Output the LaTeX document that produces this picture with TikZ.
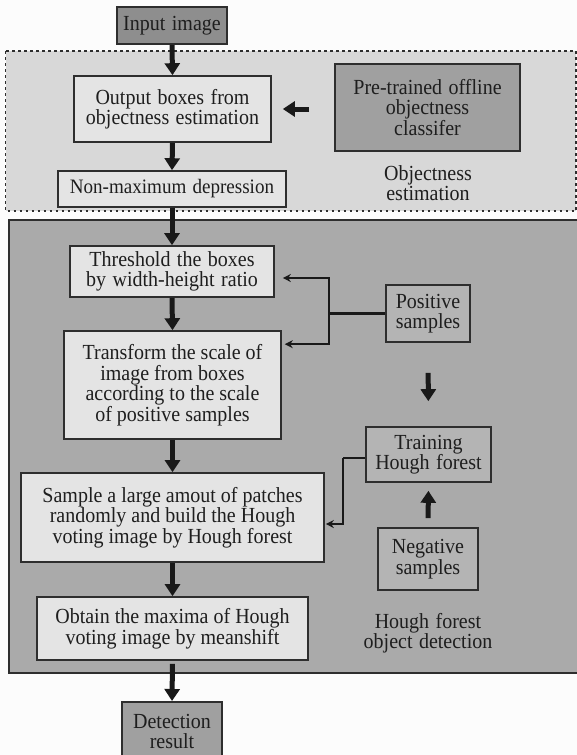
\documentclass[tikz,border=0pt]{standalone}
\usepackage{fontspec}
\setmainfont{Liberation Serif}
\newfontfamily\tallfont[FakeStretch=0.93]{Liberation Serif}
\usetikzlibrary{arrows.meta,calc}
\definecolor{inkc}{HTML}{1E1E1E}
\definecolor{linec}{HTML}{2E2E2E}
\definecolor{paperc}{HTML}{FCFCFC}
\definecolor{lightreg}{HTML}{D8D8D8}
\definecolor{darkreg}{HTML}{AAAAAA}
\definecolor{boxlight}{HTML}{E4E4E4}
\definecolor{boxmid}{HTML}{B4B4B4}
\definecolor{boxdark}{HTML}{A0A0A0}
\definecolor{boxdarker}{HTML}{8E8E8E}
\newcommand\mywidesp{\spaceskip=0.3em plus 0.1em minus 0.05em\relax}
\newcommand\mybasefont{\tallfont\fontsize{21.5}{20.5}\selectfont}
\tikzset{
  base/.style={draw=linec, line width=1.6pt, inner sep=0pt, align=center, text=inkc,
    font=\mybasefont},
  wide/.style={font=\mybasefont\mywidesp},
  lightbox/.style={base, fill=boxlight},
  midbox/.style={base, fill=boxmid},
  darkbox/.style={base, fill=boxdark},
  darkerbox/.style={base, fill=boxdarker},
  bigarrow/.style={draw=black!90, line width=5pt, -{Triangle[width=15pt,length=12pt]}},
  thinline/.style={draw=black!90, line width=2.4pt},
  thinarrow/.style={thinline, -{Stealth[width=8pt,length=8pt]}},
  lbl/.style={text=inkc, align=center, font=\mybasefont\mywidesp}
}
\begin{document}
\begin{tikzpicture}[x=1pt,y=-1pt]
\useasboundingbox (0,0) rectangle (577,755);
\fill[paperc] (0,0) rectangle (577,755);
% regions
\draw[fill=lightreg, draw=linec, line width=1.8pt, dash pattern=on 2.5pt off 3.5pt] (5.5,51) rectangle (576,211);
\draw[fill=darkreg, draw=linec, line width=1.6pt] (9,220) rectangle (585,673);
% main column
\node[darkerbox, wide, minimum width=110pt, minimum height=37pt] (inp) at (172,25.5) {Input image};
\node[lightbox, wide, minimum width=197pt, minimum height=66pt] (out) at (172.5,109) {Output boxes from\\objectness estimation};
\node[darkbox, wide, minimum width=185pt, minimum height=87pt] (pre) at (427.5,107.5) {Pre-trained offline\\objectness\\classifer};
\node[lightbox, font=\tallfont\fontsize{20.5}{20.5}\selectfont\mywidesp, minimum width=228pt, minimum height=36pt] (nms) at (172,189) {Non-maximum depression};
\node[lbl] (objl) at (428,183) {Objectness\\estimation};
\node[lightbox, wide, minimum width=204pt, minimum height=51pt] (thr) at (172,271.5) {Threshold the boxes\\by width-height ratio};
\node[lightbox, minimum width=217pt, minimum height=108pt] (tra) at (172.5,385) {Transform the scale of\\image from boxes\\according to the scale\\of positive samples};
\node[lightbox, minimum width=303pt, minimum height=89pt] (sam) at (172.5,517.5) {Sample a large amout of patches\\randomly and build the Hough\\voting image by Hough forest};
\node[lightbox, minimum width=271pt, minimum height=63pt] (obt) at (172.5,628.5) {Obtain the maxima of Hough\\voting image by meanshift};
\node[darkbox, minimum width=100pt, minimum height=59pt, anchor=north] (det) at (172,701) {Detection\\result};
% right column
\node[midbox, minimum width=84pt, minimum height=57pt] (pos) at (428,313.5) {Positive\\samples};
\node[midbox, wide, minimum width=125pt, minimum height=55pt] (trn) at (428.5,454.5) {Training\\Hough forest};
\node[midbox, minimum width=100pt, minimum height=62pt] (neg) at (428,559) {Negative\\samples};
\node[lbl] (houl) at (428,633) {Hough forest\\object detection};
% big arrows
\draw[bigarrow] (inp.south) -- (out.north);
\draw[bigarrow] (out.south) -- (nms.north);
\draw[bigarrow] (nms.south) -- (thr.north);
\draw[bigarrow] (thr.south) -- (tra.north);
\draw[bigarrow] (tra.south) -- (sam.north);
\draw[bigarrow] (sam.south) -- (obt.north);
\draw[bigarrow, shorten <=3pt] (obt.south) -- (det.north);
\draw[bigarrow, shorten <=25pt, shorten >=11pt] (pre.west |- out.east) -- (out.east);
\draw[bigarrow, shorten <=30pt, shorten >=25pt] (pos.south) -- (trn.north);
\draw[bigarrow, shorten <=9pt, shorten >=8pt] (neg.north) -- (trn.south);
% thin connectors
\coordinate (jp) at (329,313.5);
\draw[thinline] (pos.west) -- (jp);
\draw[thinarrow, shorten >=8pt] (jp) |- ($(thr.east)+(0,6.5)$);
\draw[thinarrow, shorten >=3pt] (jp) |- ($(tra.north east)+(0,14)$);
\coordinate (jt) at (343,458);
\draw[thinline] ($(trn.west)+(0,3.5)$) -- (jt);
\draw[thinarrow, shorten >=1pt] (jt) |- ($(sam.east)+(0,6.5)$);
\end{tikzpicture}
\end{document}
